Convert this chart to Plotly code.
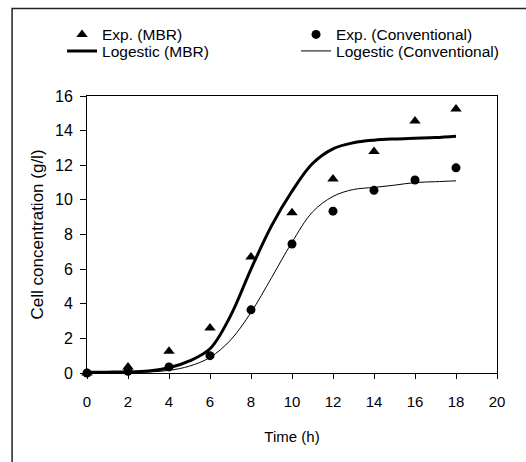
import plotly.graph_objects as go

# ---- data ----
exp_time = [0, 2, 4, 6, 8, 10, 12, 14, 16, 18]
exp_mbr = [0, 0.35, 1.25, 2.6, 6.7, 9.25, 11.2, 12.8, 14.55, 15.25]
exp_conv = [0, 0.1, 0.35, 1.0, 3.65, 7.45, 9.35, 10.55, 11.15, 11.85]

fit_time = [0, 1, 2, 3, 4, 5, 6, 7, 8, 9, 10, 11, 12, 13, 14, 15, 16, 17, 18]
fit_mbr = [0.05, 0.05, 0.06, 0.12, 0.3, 0.7, 1.4, 3.3, 6.0, 8.5, 10.5, 12.1,
           12.95, 13.3, 13.45, 13.52, 13.56, 13.6, 13.68]
fit_conv = [0.03, 0.03, 0.04, 0.06, 0.15, 0.4, 0.9, 1.9, 3.5, 5.5, 7.55, 9.3,
            10.2, 10.6, 10.72, 10.85, 11.0, 11.05, 11.1]

x_ticks = list(range(0, 21, 2))
y_ticks = list(range(0, 17, 2))

FONT = "Liberation Sans, Arial, sans-serif"

fig = go.Figure()
fig.add_trace(go.Scatter(x=fit_time, y=fit_mbr, mode="lines", name="Logestic (MBR)",
                         line=dict(color="black", width=3, shape="spline"),
                         legend="legend2"))
fig.add_trace(go.Scatter(x=fit_time, y=fit_conv, mode="lines", name="Logestic (Conventional)",
                         line=dict(color="black", width=1, shape="spline"),
                         legend="legend2"))
fig.add_trace(go.Scatter(x=exp_time, y=exp_mbr, mode="markers", name="Exp. (MBR)",
                         marker=dict(symbol="triangle-up", size=10, color="black"),
                         cliponaxis=False, legend="legend"))
fig.add_trace(go.Scatter(x=exp_time, y=exp_conv, mode="markers", name="Exp. (Conventional)",
                         marker=dict(symbol="circle", size=9, color="black"),
                         cliponaxis=False, legend="legend"))

# pixel geometry helpers (layout only)
L, R, T, B = 87, 497.5, 95.7, 373.0
W, H = 526, 462
def px(xp):
    return (xp - L) / (R - L)
def py(yp):
    return (B - yp) / (B - T)

legend_common = dict(orientation="h", xanchor="left", yanchor="middle",
                     entrywidth=189, entrywidthmode="pixels",
                     font=dict(family=FONT, size=15.5, color="black"),
                     bgcolor="rgba(0,0,0,0)", borderwidth=0,
                     traceorder="normal")

fig.update_layout(
    width=W, height=H,
    margin=dict(l=L, r=W - R, t=T, b=H - B, autoexpand=False),
    paper_bgcolor="white", plot_bgcolor="white",
    font=dict(family=FONT, color="black"),
    showlegend=True,
    legend=dict(x=px(62), y=py(34.5), **legend_common),
    legend2=dict(x=px(62), y=py(51), **legend_common),
    xaxis=dict(range=[0, 20], tickvals=x_ticks, ticks="outside", ticklen=5,
               tickcolor="black", showline=True, linecolor="black", linewidth=1,
               mirror=True, showgrid=False, zeroline=False, ticklabelstandoff=10,
               tickfont=dict(size=15, family=FONT, color="black"),
               title=dict(text="Time (h)", font=dict(size=15, family=FONT), standoff=22)),
    yaxis=dict(range=[0, 16], tickvals=y_ticks, ticks="outside", ticklen=6,
               tickcolor="black", showline=True, linecolor="black", linewidth=1,
               mirror=True, showgrid=False, zeroline=False, ticklabelstandoff=4,
               tickfont=dict(size=16, family=FONT, color="black"),
               title=dict(text="Cell concentration (g/l)", font=dict(size=17, family=FONT),
                          standoff=7)),
    shapes=[dict(type="rect", xref="paper", yref="paper",
                 x0=px(12), x1=px(600), y0=py(8), y1=py(600),
                 line=dict(color="#222", width=1.5), layer="below")],
)

fig.write_html("out.html")
